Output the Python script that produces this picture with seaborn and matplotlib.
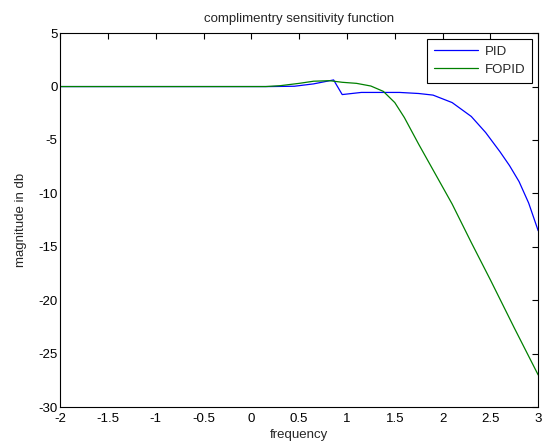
import matplotlib
matplotlib.use("Agg")
import matplotlib.pyplot as plt
import seaborn as sns
import pandas as pd

pid_x = [-2.0, 0.2, 0.45, 0.65, 0.86, 0.95, 1.15, 1.55, 1.75, 1.9, 2.1, 2.3, 2.45, 2.6, 2.7, 2.8, 2.9, 3.0]
pid_y = [0.0, 0.0, 0.03, 0.25, 0.62, -0.75, -0.55, -0.55, -0.65, -0.8, -1.5, -2.8, -4.3, -6.1, -7.4, -8.9, -10.9, -13.5]

fopid_x = [-2.0, 0.15, 0.3, 0.5, 0.65, 0.82, 0.95, 1.1, 1.25, 1.38, 1.5, 1.6, 1.75, 1.9, 2.1, 2.3, 2.5, 2.75, 3.0]
fopid_y = [0.0, 0.0, 0.08, 0.3, 0.5, 0.55, 0.4, 0.3, 0.05, -0.45, -1.5, -2.9, -5.4, -7.8, -11.0, -14.6, -18.1, -22.6, -27.0]

x_ticks = [-2, -1.5, -1, -0.5, 0, 0.5, 1, 1.5, 2, 2.5, 3]
x_ticklabels = ["-2", "-1.5", "-1", "-0.5", "0", "0.5", "1", "1.5", "2", "2.5", "3"]
y_ticks = [-30, -25, -20, -15, -10, -5, 0, 5]
y_ticklabels = ["-30", "-25", "-20", "-15", "-10", "-5", "0", "5"]

sns.set_style("white")
plt.rcParams['font.family'] = ['Liberation Sans', 'DejaVu Sans']

df_pid = pd.DataFrame({"x": pid_x, "y": pid_y})
df_fopid = pd.DataFrame({"x": fopid_x, "y": fopid_y})

fig = plt.figure(figsize=(5.42, 4.48), dpi=100)
ax = fig.add_axes([0.111, 0.0915, 0.882, 0.8345])

sns.lineplot(data=df_pid, x="x", y="y", ax=ax, color=(0, 0, 1), linewidth=0.9,
             label="PID", sort=False, estimator=None)
sns.lineplot(data=df_fopid, x="x", y="y", ax=ax, color=(0, 0.5, 0), linewidth=0.9,
             label="FOPID", sort=False, estimator=None)

fs = 9.5
ax.set_xlim(-2, 3)
ax.set_ylim(-30, 5)
ax.set_xticks(x_ticks)
ax.set_xticklabels(x_ticklabels)
ax.set_yticks(y_ticks)
ax.set_yticklabels(y_ticklabels)
ax.tick_params(direction="in", length=4, width=0.8, top=True, right=True,
               labelsize=fs, colors="black")
ax.tick_params(axis="x", pad=4)
ax.tick_params(axis="y", pad=2)
for s in ax.spines.values():
    s.set_visible(True)
    s.set_color("black")
    s.set_linewidth(0.8)

ax.set_xlabel("frequency", fontsize=fs, labelpad=3)
ax.set_ylabel("magnitude in db", fontsize=fs, labelpad=8)
ax.set_title("complimentry sensitivity function", fontsize=fs, pad=8)

leg = ax.legend(loc="upper right", fontsize=fs, frameon=True, fancybox=False,
                edgecolor="black", framealpha=1, borderaxespad=0.45,
                handlelength=3.4, handletextpad=0.5, labelspacing=0.45,
                borderpad=0.5)
leg.get_frame().set_linewidth(0.8)

fig.savefig("out.png", dpi=100)
